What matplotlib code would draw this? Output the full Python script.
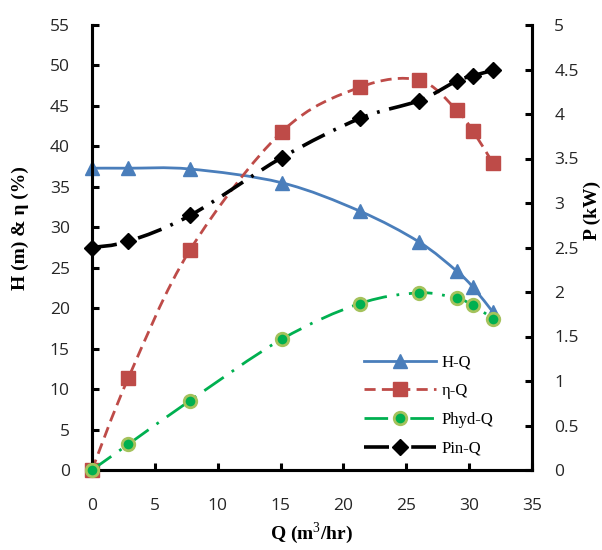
import numpy as np
import matplotlib.pyplot as plt
from matplotlib.path import Path
from matplotlib.patches import PathPatch
from matplotlib.lines import Line2D

# flow rate (m3/hr)
q = [0, 2.9, 7.8, 15.1, 21.3, 26.0, 29.0, 30.3, 31.9]
# head (m) and efficiency (%) -> left axis
head = [37.3, 37.3, 37.2, 35.5, 32.0, 28.2, 24.6, 22.6, 19.5]
eff = [0, 11.4, 27.2, 41.8, 47.3, 48.2, 44.5, 41.9, 37.9]
# hydraulic and input power (kW) -> right axis
p_hyd = [0, 0.29, 0.78, 1.47, 1.87, 1.99, 1.93, 1.85, 1.70]
p_in = [2.5, 2.57, 2.86, 3.51, 3.95, 4.15, 4.37, 4.43, 4.49]

labels = ['H-Q', 'η-Q', 'Phyd-Q', 'Pin-Q']

plt.rcParams['lines.scale_dashes'] = False
serif = 'Liberation Serif'
plt.rcParams['mathtext.fontset'] = 'custom'
plt.rcParams['mathtext.rm'] = serif
plt.rcParams['mathtext.bf'] = serif + ':bold'


def smooth_path(x, y):
    # excel-like smoothed line (catmull-rom as bezier segments)
    pts = np.column_stack([x, y]).astype(float)
    n = len(pts)
    verts = [pts[0]]
    codes = [Path.MOVETO]
    for i in range(n - 1):
        p0 = pts[max(i - 1, 0)]
        p1 = pts[i]
        p2 = pts[i + 1]
        p3 = pts[min(i + 2, n - 1)]
        verts += [p1 + (p2 - p0) / 6, p2 - (p3 - p1) / 6, p2]
        codes += [Path.CURVE4] * 3
    return Path(verts, codes)


def draw_series(ax, x, y, color, lw, ls, marker, ms, mfc, mec, mew):
    ax.add_patch(PathPatch(smooth_path(x, y), facecolor='none', edgecolor=color,
                           lw=lw, linestyle=ls, capstyle='butt', zorder=2))
    ax.plot(x, y, ls='none', marker=marker, ms=ms, mfc=mfc, mec=mec, mew=mew,
            zorder=3, clip_on=False)
    return Line2D([], [], color=color, lw=lw, linestyle=ls, marker=marker, ms=ms,
                  mfc=mfc, mec=mec, mew=mew)


fig = plt.figure(figsize=(6.02, 5.5), dpi=100)
ax = fig.add_axes([92 / 602, 1 - 470 / 550, 440 / 602, 445 / 550])
ax2 = ax.twinx()

blue = '#4A7EBB'
red = '#BE4B48'
green = '#00B050'
lime = '#A5C25C'

h1 = draw_series(ax, q, head, blue, 2, '-', '^', 10, blue, blue, 1)
h2 = draw_series(ax, q, eff, red, 2, (0, (8, 4.5)), 's', 10, red, red, 1)
h3 = draw_series(ax2, q, p_hyd, green, 2, (0, (17, 7, 2, 7)), 'o', 9, green, lime, 2)
h4 = draw_series(ax2, q, p_in, 'black', 2.6, (0, (18, 7, 2, 7)), 'D', 8, 'black', 'black', 1)

ax.set_xlim(0, 35)
ax.set_ylim(0, 55)
ax2.set_ylim(0, 5)
ax.set_xticks(np.arange(0, 36, 5))
ax.set_yticks(np.arange(0, 56, 5))
ax2.set_yticks(np.arange(0, 5.01, 0.5))
ax2.set_yticklabels(['0', '0.5', '1', '1.5', '2', '2.5', '3', '3.5', '4', '4.5', '5'])

for a in (ax, ax2):
    for s in a.spines.values():
        s.set_linewidth(2.2)
    a.spines['top'].set_visible(False)
    a.tick_params(direction='in', length=5, width=2.2, colors='black',
                  labelcolor='#262626', labelsize=12.5, pad=16)
    for t in a.get_xticklabels() + a.get_yticklabels():
        t.set_fontfamily('Open Sans')
ax.tick_params(axis='x', pad=20)

ax.set_xlabel('Q (m$^3$/hr)', fontsize=14, fontweight='bold', family=serif, labelpad=5)
fig.text(20 / 602, 1 - 228 / 550, 'H (m) & η (%)', rotation=90, ha='center', va='center',
         fontsize=14, fontweight='bold', family=serif)
fig.text(592 / 602, 1 - 210 / 550, 'P (kW)', rotation=90, ha='center', va='center',
         fontsize=14, fontweight='bold', family=serif)

leg = ax2.legend([h1, h2, h3, h4], labels, loc='upper left',
                 bbox_to_anchor=(356 / 602, 1 - 346 / 550), bbox_transform=fig.transFigure,
                 frameon=False, numpoints=1, handlelength=4.3, handletextpad=0.35,
                 labelspacing=0.76, borderpad=0, prop={'family': serif, 'size': 12})

fig.savefig('out.png', dpi=100)
